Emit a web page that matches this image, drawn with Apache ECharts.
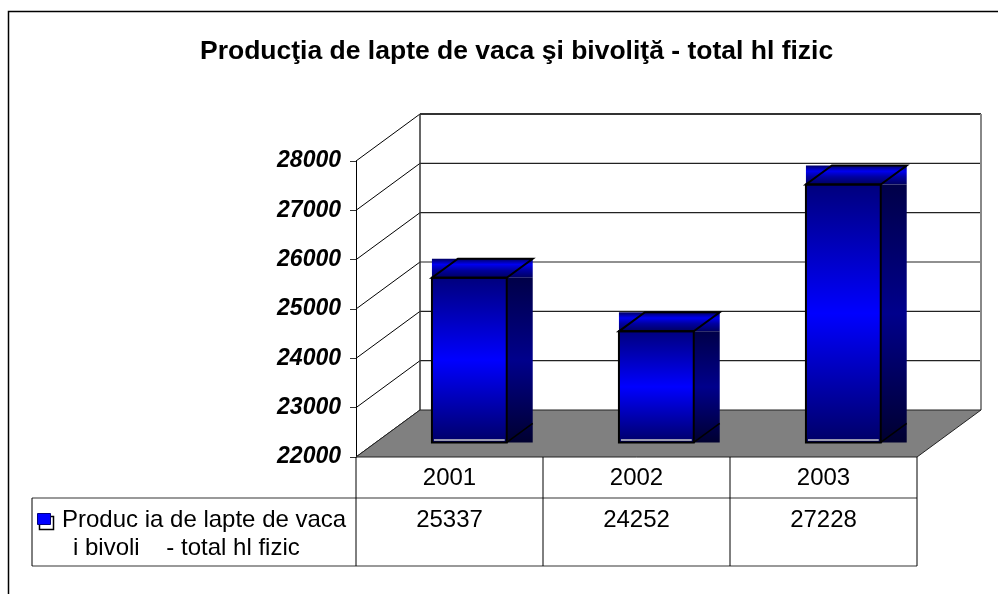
<!DOCTYPE html>
<html>

<head>
    <meta charset="utf-8" />
    <title>Productia de lapte</title>
    <script src="https://cdn.jsdelivr.net/npm/echarts@6/dist/echarts.min.js"></script>
    <style>
        html, body { margin: 0; padding: 0; background: #fff; }
        #main { width: 998px; height: 594px; }
    </style>
</head>

<body>
    <div id="main"></div>
    <script type="text/javascript">
        // data
        var categories = ['2001', '2002', '2003'];
        var production = [25337, 24252, 27228];
        var yTicks = [22000, 23000, 24000, 25000, 26000, 27000, 28000];
        var titleText = 'Producţia de lapte de vaca şi bivoliţă - total hl fizic';
        // legend cell text as it shows in the table (missing glyphs are blanks)
        var legendLines = ['Produc ia de lapte de vaca', 'i bivoli    - total hl fizic'];

        var yMin = yTicks[0], yMax = yTicks[yTicks.length - 1];
        var DX = 64, DY = -47;           // depth of the 3d box
        var FONT = '"Liberation Sans", Arial, sans-serif';
        var TFONT = '24px ' + FONT;

        function line(x1, y1, x2, y2, color, w) {
            return { type: 'line', shape: { x1: x1, y1: y1, x2: x2, y2: y2 }, style: { stroke: color, lineWidth: w } };
        }
        function vgrad(stops) {
            return {
                type: 'linear', x: 0, y: 0, x2: 0, y2: 1,
                colorStops: stops.map(function (s) { return { offset: s[0], color: s[1] }; })
            };
        }

        // walls, floor, table frame, legend key
        function renderFrame(params, api) {
            var cs = params.coordSys;
            var x0 = cs.x, x1 = cs.x + cs.width, yb = cs.y + cs.height;
            var yt = api.coord([0, yMax])[1];
            var ch = [];
            ch.push({ type: 'rect', shape: { x: x0 + DX, y: yt + DY, width: cs.width, height: yb - yt }, style: { fill: '#fff' } });
            yTicks.forEach(function (v) {
                var y = api.coord([0, v])[1];
                ch.push(line(x0, y, x0 + DX, y + DY, '#000', 1));
                if (v > yMin) {
                    ch.push(line(x0 + DX, y + DY, x1 + DX, y + DY, v === yMax ? '#333' : '#222', v === yMax ? 2 : 1.2));
                }
            });
            ch.push(line(x0 + DX, yt + DY, x0 + DX, yb + DY, '#333', 1.5));
            ch.push(line(x1 + DX, yt + DY, x1 + DX, yb + DY, '#888', 2));
            ch.push({
                type: 'polygon',
                shape: { points: [[x0, yb], [x1, yb], [x1 + DX, yb + DY], [x0 + DX, yb + DY]] },
                style: { fill: '#808080', stroke: '#222', lineWidth: 1 }
            });
            // data table lines
            var r1 = yb + 41, r2 = yb + 109, tl = 32;
            ch.push(line(tl, r1, x1, r1, '#777', 1.5));
            ch.push(line(tl, r2, x1, r2, '#777', 1.5));
            ch.push(line(tl, r1, tl, r2, '#000', 1));
            ch.push(line(x0, yb, x0, r2, '#000', 1));
            // legend key
            ch.push({ type: 'rect', shape: { x: 39.5, y: 516.5, width: 14, height: 13 }, style: { fill: '#fff', stroke: '#000', lineWidth: 1.5 } });
            ch.push({ type: 'rect', shape: { x: 37.5, y: 513.5, width: 13, height: 11 }, style: { fill: '#0000ff', stroke: '#000080', lineWidth: 1 } });
            ch.push({ type: 'text', style: { text: legendLines[0], x: 62, y: r1 + 22, font: TFONT, fill: '#000', verticalAlign: 'middle' } });
            ch.push({ type: 'text', style: { text: legendLines[1], x: 73, y: r1 + 50, font: TFONT, fill: '#000', verticalAlign: 'middle' } });
            return { type: 'group', children: ch };
        }

        // one table cell per category
        function renderCell(params, api) {
            var cs = params.coordSys;
            var i = api.value(0), v = api.value(1);
            var c = api.coord([i, v]);
            var band = api.size([1, 0])[0];
            var yb = cs.y + cs.height;
            var xr = c[0] + band / 2;
            return {
                type: 'group', children: [
                    line(xr, yb, xr, yb + 109, '#000', 1),
                    { type: 'text', style: { text: String(v), x: c[0], y: yb + 63, font: TFONT, fill: '#000', align: 'center', verticalAlign: 'middle' } }
                ]
            };
        }

        // 3d bar
        function renderBar(params, api) {
            var i = api.value(0), v = api.value(1);
            var top = api.coord([i, v]);
            var base = api.coord([i, yMin]);
            var band = api.size([1, 0])[0];
            var w = band * 0.4;
            var f = 0.31, b = 0.406;
            var fx = top[0] - w / 2 + DX * f;
            var yT = top[1] + DY * f, yB = base[1] + DY * f;
            var bx = DX * b, by = DY * b;
            var ch = [];
            ch.push({ type: 'rect', shape: { x: fx, y: yT + by, width: w + bx, height: -by }, style: { fill: vgrad([[0, '#000060'], [0.3, '#0000f0'], [0.6, '#0000a0'], [1, '#000060']]) } });
            ch.push({ type: 'rect', shape: { x: fx + w, y: yT, width: bx, height: yB - yT }, style: { fill: vgrad([[0, '#000048'], [0.5, '#00008c'], [1, '#000030']]) } });
            ch.push({ type: 'rect', shape: { x: fx, y: yT, width: w, height: yB - yT }, style: { fill: vgrad([[0, '#00007c'], [0.5, '#0000ff'], [1, '#000066']]), stroke: '#000', lineWidth: 2 } });
            ch.push(line(fx + 2, yB - 2.5, fx + w - 2, yB - 2.5, '#c8c8c8', 1.5));
            ch.push({
                type: 'polygon',
                shape: { points: [[fx, yT], [fx + w, yT], [fx + w + bx, yT + by], [fx + bx, yT + by]] },
                style: { fill: 'none', stroke: '#000', lineWidth: 2 }
            });
            ch.push(line(fx + w, yB, fx + w + bx, yB + by, '#000', 1.5));
            return { type: 'group', children: ch };
        }

        var myChart = echarts.init(document.getElementById('main'));
        myChart.setOption({
            animation: false,
            title: {
                text: titleText,
                left: 195,
                top: 33,
                textStyle: { fontFamily: FONT, fontSize: 26.5, fontWeight: 'bold', color: '#000' }
            },
            graphic: [{
                type: 'rect', silent: true,
                shape: { x: 8.5, y: 11.5, width: 1100, height: 700 },
                style: { fill: 'none', stroke: '#000', lineWidth: 1.5 }
            }],
            grid: { left: 356, top: 161, width: 561, height: 296 },
            xAxis: {
                type: 'category',
                data: categories,
                axisLine: { show: false },
                axisTick: { show: false },
                axisLabel: { margin: 21, verticalAlign: 'middle', fontFamily: FONT, fontSize: 24, color: '#000' }
            },
            yAxis: {
                type: 'value',
                min: yMin,
                max: yMax,
                interval: 1000,
                axisLine: { show: true, lineStyle: { color: '#000', width: 1 } },
                axisTick: { show: true, length: 6, lineStyle: { color: '#333' } },
                splitLine: { show: false },
                axisLabel: {
                    margin: 15, fontFamily: FONT, fontSize: 23, fontWeight: 'bold', fontStyle: 'italic', color: '#000',
                    formatter: function (v) { return String(v); }
                }
            },
            series: [
                { type: 'custom', name: 'frame', z: 1, silent: true, renderItem: renderFrame, data: [[0, yMin]] },
                { type: 'custom', name: 'table', z: 2, silent: true, renderItem: renderCell, data: production.map(function (v, i) { return [i, v]; }) },
                { type: 'custom', name: titleText, z: 3, renderItem: renderBar, data: production.map(function (v, i) { return [i, v]; }) }
            ]
        });
    </script>
</body>

</html>
